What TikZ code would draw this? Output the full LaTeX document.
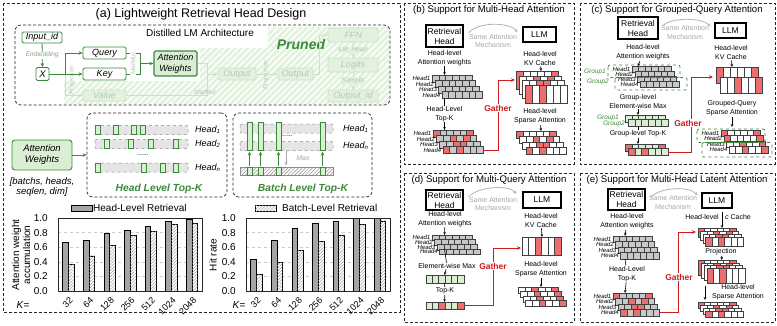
\documentclass[tikz,border=0pt]{standalone}
\usepackage{fontspec}
\setmainfont{Liberation Sans}
\usepackage{tikz}
\usetikzlibrary{arrows.meta, patterns.meta, positioning}

% colours
\definecolor{gdark}{RGB}{58,138,58}
\definecolor{gfill}{RGB}{218,238,212}
\definecolor{gfade}{RGB}{200,228,194}
\definecolor{tfade}{RGB}{185,198,185}
\definecolor{prune}{RGB}{226,242,222}
\definecolor{redt}{RGB}{204,28,28}
\definecolor{barg}{RGB}{165,165,165}
\definecolor{cellg}{RGB}{200,200,200}
\definecolor{cellr}{RGB}{236,110,110}
\definecolor{cellw}{RGB}{255,255,255}
\definecolor{celll}{RGB}{218,238,212}

% one row of cells: x, y, cell width, cell height, fills (g r w l)
\newcommand{\cellrow}[5]{%
  \foreach \cc [count=\ii from 0] in {#5}{%
    \draw[cellline, fill=cell\cc] ({#1+\ii*#3},{#2}) rectangle ++(#3,#4);}}
% rows stacked with a shift dx, dy
\newcommand{\cellstack}[7]{%
  \foreach \rr [count=\jj from 0] in {#7}{%
    \edef\cellcmd{\noexpand\cellrow{#1+\jj*#3}{#2+\jj*#4}{#5}{#6}{\rr}}\cellcmd}}
% Head1..Head4 left of a stack: x, y, dx, dy, h, prefix
\newcommand{\headlabels}[6]{%
  \foreach \k in {1,...,4}{%
    \node[hd] (#6\k) at ({#1+(\k-1)*#3-1.5},{#2+(\k-1)*#4+#5/2}) {Head\k};}}

\begin{document}
\begin{tikzpicture}[x=1pt, y=-1pt,
  panel/.style={draw=black!85, line width=0.8pt, dash pattern=on 3pt off 2pt},
  inbox/.style={draw=black!85, line width=0.7pt, dash pattern=on 3pt off 2pt, rounded corners=6pt},
  ttl/.style={font=\fontsize{12.5}{14}\selectfont, inner sep=0pt},
  pttl/.style={font=\fontsize{9.6}{11}\selectfont, inner sep=0pt},
  gbox/.style={draw=gdark, line width=0.8pt, fill=white, rounded corners=1.5pt, font=\fontsize{9}{10}\selectfont\itshape, inner sep=0pt, minimum height=12pt, minimum width=43pt},
  awbox/.style={gbox, line width=1.3pt, fill=gfill, minimum height=25pt, align=center, font=\fontsize{9}{10.5}\selectfont\itshape},
  fbox/.style={draw=gfade, line width=0.8pt, fill=prune, rounded corners=1.5pt, text=tfade, font=\fontsize{9}{10}\selectfont\itshape, inner sep=0pt, minimum height=12pt, minimum width=43pt},
  flbl/.style={text=tfade, font=\fontsize{6.5}{7}\selectfont\itshape, inner sep=0.5pt},
  elbl/.style={text=black!40, font=\fontsize{6.5}{7}\selectfont\itshape, inner sep=0.5pt, fill=white},
  gline/.style={draw=gdark, line width=0.8pt},
  garr/.style={gline, -{Stealth[length=4pt, width=3.5pt]}},
  fline/.style={draw=gfade, line width=0.8pt},
  farr/.style={fline, -{Stealth[length=4pt, width=3.5pt]}},
  rowbar/.style={draw=black!45, dashed, fill=black!10, rounded corners=1pt, line width=0.5pt},
  hatchrow/.style={draw=black!45, line width=0.5pt, fill=white, postaction={pattern={Lines[angle=45, distance=2.5pt, line width=0.5pt]}, pattern color=black!45}},
  gcell/.style={draw=gdark, fill=gfill, line width=0.7pt},
  hname/.style={font=\fontsize{9}{10}\selectfont\itshape, anchor=west, inner sep=0pt},
  lvl/.style={text=gdark, font=\fontsize{10.3}{12}\selectfont\bfseries\itshape, inner sep=0pt},
  leg/.style={font=\fontsize{10}{11}\selectfont, anchor=west, inner sep=0pt},
  barH/.style={draw=black, line width=0.6pt, fill=barg},
  barB/.style={draw=black, line width=0.6pt, fill=white, postaction={pattern={Lines[angle=45, distance=2.2pt, line width=0.35pt]}, pattern color=black!45}},
  gridl/.style={draw=black!20, dashed, line width=0.4pt},
  tick/.style={font=\fontsize{10}{11}\selectfont, anchor=east, inner sep=0pt},
  ktick/.style={font=\fontsize{9}{10}\selectfont, anchor=east, rotate=45, inner sep=0pt},
  axl/.style={font=\fontsize{10}{11}\selectfont, rotate=90, align=center, inner sep=0pt},
  rh/.style={draw=black, line width=1.2pt, font=\fontsize{8.5}{10}\selectfont, align=center, inner sep=0pt},
  same/.style={text=black!35, font=\fontsize{7}{8.5}\selectfont, align=center, inner sep=0pt},
  samearc/.style={draw=black!30, line width=0.8pt, -{Stealth[length=3.5pt, width=3pt]}},
  lbl/.style={font=\fontsize{7}{9}\selectfont, align=center, inner sep=0.5pt},
  karr/.style={draw=black, line width=0.6pt, -{Stealth[length=3pt, width=2.5pt]}},
  kline/.style={draw=black, line width=0.6pt},
  rarr/.style={draw=redt, line width=0.9pt, -{Stealth[length=4pt, width=3.5pt]}},
  gath/.style={text=redt, font=\fontsize{8.5}{10}\selectfont\bfseries, fill=white, inner sep=0.8pt},
  hd/.style={font=\fontsize{6}{6.5}\selectfont\itshape, inner sep=0pt, anchor=east},
  grp/.style={text=gdark, font=\fontsize{6.5}{7}\selectfont\itshape, inner sep=0pt, anchor=east},
  grpbox/.style={draw=gdark, dashed, line width=0.7pt, rounded corners=2pt},
  cellline/.style={draw=black!75, line width=0.35pt}
]
\useasboundingbox (0,0) rectangle (777,325);

% ================= (a)
\draw[panel] (3,3) rectangle (400,312);
\node[ttl] (ta) at (201,14) {(a) Lightweight Retrieval Head Design};

% pruned area and architecture box
\fill[prune, postaction={pattern={Lines[angle=45, distance=4.5pt, line width=1.5pt]}, pattern color=white}]
  (64,104) -- (64,81) -- (200,81) -- (200,48) -- (268,48) -- (268,27) -- (389,27) -- (389,104) -- cycle;
\draw[inbox] (15,25) rectangle (390,105);
\node[font=\fontsize{10}{12}\selectfont, inner sep=0pt] (dlm) at (200,33) {Distilled LM Architecture};
\node[font=\fontsize{14}{16}\selectfont\bfseries\itshape, text=gdark, inner sep=0pt] (pr) at (301,44) {Pruned};

% faded labels
\node[flbl, rotate=90] (proj1) at (72,80) {Projection};
\node[flbl, rotate=90] (proj2) at (266,75) {Projection};

% nodes
\node[gbox, minimum width=40pt, minimum height=11pt] (inid) at (42,37.5) {Input\_id};
\node[gbox, minimum width=13pt, minimum height=13pt, font=\fontsize{9.5}{10}\selectfont\itshape] (xin) at (42.5,74) {X};
\node[gbox] (query) at (104.5,53) {Query};
\node[gbox] (key) at (104.5,74) {Key};
\node[awbox] (aw) at (175.5,63.5) {Attention\\Weights};
\node[fbox, minimum height=11pt] (value) at (104.5,95.5) {Value};
\node[fbox, minimum width=38pt] (out1) at (237,74) {Output};
\node[fbox, minimum width=35pt] (out2) at (295.5,74) {Output};
\node[fbox, minimum width=50pt, minimum height=14pt] (ffn) at (353,35) {FFN};
\node[fbox, minimum width=50pt, minimum height=14pt] (logits) at (353,65) {Logits};
\node[fbox, minimum width=50pt] (outid) at (353,96) {Output\_id};

% edges
\coordinate (split) at (65,74);
\coordinate (join) at (140,63.5);
\coordinate (mix) at (207,74);
\coordinate (br) at (319,74);
\draw[farr] (split) |- (value.west);
\draw[fline] (value.east) -| (mix);
\draw[farr] (aw.east) -| (mix) -- (out1.west);
\draw[farr] (out1) -- (out2);
\draw[farr] (out2.east) -- (br) |- (ffn.west);
\draw[farr] (ffn) -- (logits) node[midway, flbl, fill=prune] (lmh) {LM\_Head};
\draw[farr] (logits) -- (outid) node[midway, flbl, fill=prune] (smp) {Sample};
\node[flbl] (mm2) at (205,92) {MatMul};
\draw[garr] (inid) -- (xin) node[midway, elbl] (emb) {Embedding};
\draw[gline] (xin.east) -- (split);
\draw[garr] (split) |- (query.west);
\draw[garr] (split) -- (key.west);
\draw[gline] (query.east) -| (join);
\draw[gline] (key.east) -| (join);
\draw[garr] (join) -- (aw.west);
\node[flbl, rotate=90, fill=white] (mm1) at (133,64) {MatMul};

% head level / batch level
\node[awbox, minimum width=60pt, minimum height=30pt, rounded corners=3pt, line width=0.9pt, font=\fontsize{9.5}{11}\selectfont\itshape] (aw2) at (42,155) {Attention\\Weights};
\node[font=\fontsize{9.5}{10.5}\selectfont\itshape, align=center, inner sep=0pt] (dims) at (42,187) {[batchs, heads,\\seqlen, dim]};
\node[inbox, minimum width=140pt, minimum height=84pt, inner sep=0pt] (hlb) at (157,155) {};
\node[inbox, minimum width=139pt, minimum height=84pt, inner sep=0pt] (blb) at (302.5,155) {};
\draw[garr] (aw2) -- (hlb);
\node[lvl] (hll) at (159,189) {Head Level Top-K};
\node[lvl] (bll) at (303,189) {Batch Level Top-K};

\foreach \yy in {125.5,139.5,163} \draw[rowbar] (95,\yy) rectangle ++(93,9);
\foreach \xx/\yy in {95/125.5, 113/125.5, 131/125.5, 140/125.5, 104/139.5, 128/139.5, 148/139.5, 173/139.5, 95/163, 141/163, 160/163, 173/163}
  \draw[gcell] (\xx,\yy) rectangle ++(5,9);
\node[hname] (hh1) at (195,130) {Head\textsubscript{1}};
\node[hname] (hh2) at (195,144) {Head\textsubscript{2}};
\node[hname] (hhn) at (195,167.5) {Head\textsubscript{n}};
\node[font=\fontsize{7}{8}\selectfont, inner sep=0pt] (hdots) at (143,155) {......};

\draw[rowbar] (240,124) rectangle ++(93,9);
\draw[rowbar] (240,141.5) rectangle ++(93,9);
\draw[hatchrow] (240,167) rectangle ++(93,8);
\foreach \xx [count=\n] in {247,258,276,320}{
  \draw[gcell] (\xx,122.5) rectangle ++(5,28);
  \draw[gcell] (\xx,167) rectangle ++(5,8);
  \coordinate (bs\n) at ({\xx+2.5},166);
  \coordinate (bt\n) at ({\xx+2.5},151.5);
  \draw[garr, line width=0.7pt] (bs\n) -- (bt\n);
}
\coordinate (mx1) at (286,150.5);
\coordinate (mx2) at (286,165.5);
\draw[draw=black!35, line width=0.7pt, -{Stealth[length=3.5pt, width=3pt]}] (mx1) -- (mx2);
\node[text=black!35, font=\fontsize{7}{8}\selectfont\itshape, inner sep=0pt] (maxl) at (303,158) {Max};
\node[font=\fontsize{7}{8}\selectfont, inner sep=0pt] (bdots) at (287,136) {......};
\node[hname] (bh1) at (343,129) {Head\textsubscript{1}};
\node[hname] (bhn) at (343,146) {Head\textsubscript{n}};

% charts
\draw[barH] (71,205) rectangle (92,211);
\node[leg] (lg1) at (93,208) {Head-Level Retrieval};
\draw[barB] (255,205) rectangle (276,211);
\node[leg] (lg2) at (282,208) {Batch-Level Retrieval};

\foreach \ox/\nm in {58/l, 246/r}{
  \foreach \v in {0.2,0.4,0.6,0.8} \draw[gridl] (\ox,{291-73*\v}) -- ({\ox+144},{291-73*\v});
  \foreach \v/\t [count=\n] in {0/0.0, 0.2/0.2, 0.4/0.4, 0.6/0.6, 0.8/0.8, 1/1.0}
    \node[tick] (\nm-y\n) at ({\ox-10},{291-73*\v}) {\t};
  \foreach \k [count=\n from 0] in {32,64,128,256,512,1024,2048}
    \node[ktick] (\nm-k\n) at ({\ox+20.6*(\n+0.5)+3},299) {\k};
}
\foreach \hv/\bv [count=\n from 0] in {0.67/0.36, 0.70/0.48, 0.79/0.62, 0.83/0.76, 0.89/0.82, 0.96/0.91, 0.98/0.93}{
  \draw[barH] ({58+20.6*(\n+0.5)-5.7},291) rectangle ({58+20.6*(\n+0.5)},{291-73*\hv});
  \draw[barB] ({58+20.6*(\n+0.5)},291) rectangle ({58+20.6*(\n+0.5)+5.7},{291-73*\bv});
}
\foreach \hv/\bv [count=\n from 0] in {0.44/0.23, 0.70/0.39, 0.86/0.56, 0.93/0.68, 0.95/0.76, 1.0/0.91, 1.0/0.96}{
  \draw[barH] ({246+20.6*(\n+0.5)-5.7},291) rectangle ({246+20.6*(\n+0.5)},{291-73*\hv});
  \draw[barB] ({246+20.6*(\n+0.5)},291) rectangle ({246+20.6*(\n+0.5)+5.7},{291-73*\bv});
}
\draw[black!85, line width=0.6pt] (58,218) rectangle (202,291);
\draw[black!85, line width=0.6pt] (246,218) rectangle (390,291);
\node[axl] (axa) at (21,255) {Attention weight\\accumulation};
\node[axl] (axh) at (213,255) {Hit rate};
\node[font=\fontsize{10}{11}\selectfont, inner sep=0pt] (kl) at (23,305) {\textit{K}=};
\node[font=\fontsize{10}{11}\selectfont, inner sep=0pt] (kr) at (239,305) {\textit{K}=};

% ================= (b)
\draw[panel] (404,3) rectangle (574,164);
\node[pttl] (tb) at (489,10) {(b) Support for Multi-Head Attention};
\node[rh, minimum width=37pt, minimum height=22pt] (brh) at (444.5,36) {Retrieval\\Head};
\node[rh, minimum width=33pt, minimum height=15pt] (bllm) at (539.5,34.5) {LLM};
\node[same] (bsame) at (493,41) {Same Attention\\Mechanism};
\draw[samearc] ([shift={(5,-3)}]brh.east) .. controls +(8,-11) and +(-8,-11) .. ([shift={(-5,-2)}]bllm.west);

\cellstack{432}{75}{3.3}{5.5}{6.7}{7}{{g,g,g,g,g,g},{g,g,g,g,g,g},{g,g,g,g,g,g},{g,g,g,g,g,g}}
\headlabels{432}{75}{3.3}{5.5}{7}{bha}
\cellstack{433}{130}{3.3}{5.5}{6.7}{7}{{r,g,g,g,g,r},{g,g,r,g,r,g},{g,g,r,r,g,g},{r,g,r,g,g,g}}
\headlabels{433}{130}{3.3}{5.5}{7}{bhb}
\cellstack{516}{71}{3}{4.7}{7}{18}{{r,w,w,w,w,r},{w,w,r,w,r,w},{w,w,r,r,w,w},{r,w,r,w,w,w}}
\cellstack{516}{131}{3.3}{5.5}{6.7}{7}{{r,w,w,w,w,r},{w,w,r,w,r,w},{w,w,r,r,w,w},{r,w,r,w,w,w}}

\node[lbl] (bhl) at (444.5,58) {Head-level\\Attention weights};
\node[lbl] (btk) at (444.5,114) {Head-Level\\Top-K};
\node[lbl] (bkv) at (540,58.5) {Head-level\\KV Cache};
\node[lbl] (bsp) at (540,116.5) {Head-level\\Sparse Attention};
\coordinate (bg1t) at (444.5,75);
\coordinate (bg1b) at (444.5,98.5);
\coordinate (bg2t) at (444.5,130);
\coordinate (bkvt) at (541,71);
\coordinate (bspt) at (541,131);
\draw[karr] (bhl) -- (bg1t);
\draw[kline] (bg1b) -- (btk);
\draw[karr] (btk) -- (bg2t);
\draw[karr] (bkv) -- (bkvt);
\draw[karr] (bsp) -- (bspt);
\coordinate (bgo) at (483.1,150);
\coordinate (bgc) at (498,80);
\coordinate (bgi) at (515,80);
\draw[rarr] (bgo) -| (bgc) -- (bgi);
\node[gath] (bga) at (498,108) {Gather};

% ================= (c)
\draw[panel] (580,3) rectangle (775,164);
\node[pttl] (tc) at (677,10) {(c) Support for Grouped-Query Attention};
\node[rh, minimum width=40pt, minimum height=22pt] (crh) at (638,28) {Retrieval\\Head};
\node[rh, minimum width=31pt, minimum height=15pt] (cllm) at (730.5,30.5) {LLM};
\node[same] (csame) at (685,32.5) {Same Attention\\Mechanism};
\draw[samearc] ([shift={(4,-2)}]crh.east) .. controls +(8,-9) and +(-8,-9) .. ([shift={(-4,-4)}]cllm.west);

\cellstack{632}{66}{2.7}{5}{6.5}{6.5}{{g,g,g,g,g,g},{g,g,g,g,g,g},{g,g,g,g,g,g},{g,g,g,g,g,g}}
\headlabels{632}{66}{2.7}{5}{6.5}{cha}
\draw[grpbox] (608,65) rectangle (680,77.5);
\draw[grpbox] (615,77.5) rectangle (687,90);
\node[grp] (cg1) at (606,72) {Group1};
\node[grp] (cg2) at (609,82) {Group2};
\cellstack{625}{115}{3}{4.5}{6.7}{7}{{l,l,l,l,l,l},{l,l,l,l,l,l}}
\node[grp] (cg3) at (619,117.5) {Group1};
\node[grp] (cg4) at (625,123.5) {Group2};
\cellstack{625}{144}{3}{4.5}{6.7}{7}{{r,l,l,l,l,r},{r,l,r,l,l,l}}
\cellstack{716}{67}{4}{10}{7}{16}{{r,w,w,w,w,r},{w,w,r,w,w,r}}
\cellstack{721}{130}{2.7}{5.5}{6.5}{6.5}{{r,w,w,w,w,r},{r,w,w,w,w,r},{w,w,r,w,w,r},{w,w,r,w,w,r}}
\headlabels{721}{130}{2.7}{5.5}{6.5}{chb}
\draw[grpbox] (697,129) rectangle (765,142.5);
\draw[grpbox] (702,142.5) rectangle (772,157);

\node[lbl] (chl) at (643,52.5) {Head-level\\Attention weights};
\node[lbl] (cem) at (638,101.5) {Group-level\\Element-wise Max};
\node[lbl] (ctk) at (638,134) {Group-level Top-K};
\node[lbl] (ckv) at (731,52.5) {Head-level\\KV Cache};
\node[lbl] (csp) at (732,108.5) {Grouped-Query\\Sparse Attention};
\coordinate (cg1t) at (638,66);
\coordinate (cmt) at (638,115);
\coordinate (cmb) at (638,126.5);
\coordinate (crt) at (638,144);
\coordinate (ckvt) at (732,67);
\coordinate (cspt) at (732,127);
\draw[karr] (chl) -- (cg1t);
\draw[karr] (cem) -- (cmt);
\draw[kline] (cmb) -- (ctk);
\draw[karr] (ctk) -- (crt);
\draw[karr] (ckv) -- (ckvt);
\draw[karr] (csp) -- (cspt);
\coordinate (cgo) at (668.2,152);
\coordinate (cgc) at (691,77);
\coordinate (cgi) at (713,77);
\draw[rarr] (cgo) -| (cgc) -- (cgi);
\node[gath] (cga) at (688,123) {Gather};

% ================= (d)
\draw[panel] (404,173) rectangle (574,322);
\node[pttl] (td) at (489,180) {(d) Support for Multi-Query Attention};
\node[rh, minimum width=37pt, minimum height=20pt] (drh) at (444.5,200) {Retrieval\\Head};
\node[rh, minimum width=38pt, minimum height=16pt] (dllm) at (542,200) {LLM};
\node[same] (dsame) at (493,204) {Same Attention\\Mechanism};
\draw[samearc] ([shift={(5,-3)}]drh.east) .. controls +(8,-10) and +(-8,-10) .. ([shift={(-6,-6)}]dllm.west);

\cellstack{432}{235}{2.5}{4.6}{6.7}{5.5}{{g,g,g,g,g,g},{g,g,g,g,g,g},{g,g,g,g,g,g},{g,g,g,g,g,g}}
\headlabels{432}{235}{2.5}{4.6}{5.5}{dha}
\cellrow{426}{275}{6.33}{8}{l,l,l,l,l,l}
\cellrow{426}{302}{6.33}{7}{l,l,r,l,l,r}
\cellrow{522}{237}{6.5}{18}{w,w,r,w,w,r}
\cellstack{518}{287}{2.5}{4.5}{6.7}{6}{{w,w,r,w,w,r},{w,w,r,w,w,r},{w,w,r,w,w,r},{w,w,r,w,w,r}}

\node[lbl] (dhl) at (445,219) {Head-level\\Attention weights};
\node[lbl] (dem) at (447,266) {Element-wise Max};
\node[lbl] (dtk) at (445,291) {Top-K};
\node[lbl] (dkv) at (541,220.5) {Head-level\\KV Cache};
\node[lbl] (dsp) at (541,269.5) {Head-level\\Sparse Attention};
\coordinate (dg1t) at (444.5,235);
\coordinate (dg1b) at (444.5,249.3);
\coordinate (dmt) at (444.5,275);
\coordinate (dmb) at (444.5,283);
\coordinate (drt) at (444.5,302);
\coordinate (dkvt) at (542,237);
\coordinate (dspt) at (541,287);
\draw[karr] (dhl) -- (dg1t);
\draw[kline] (dg1b) -- (dem);
\draw[karr] (dem) -- (dmt);
\draw[kline] (dmb) -- (dtk);
\draw[karr] (dtk) -- (drt);
\draw[karr] (dkv) -- (dkvt);
\draw[karr] (dsp) -- (dspt);
\coordinate (dgo) at (464,305.5);
\coordinate (dgc) at (493,248);
\coordinate (dgi) at (521,248);
\draw[rarr] (dgo) -| (dgc) -- (dgi);
\node[gath] (dga) at (493,266) {Gather};

% ================= (e)
\draw[panel] (580,173) rectangle (775,322);
\node[pttl] (te) at (677,180) {(e) Support for Multi-Head Latent Attention};
\node[rh, minimum width=37pt, minimum height=21pt] (erh) at (626.5,199.5) {Retrieval\\Head};
\node[rh, minimum width=30pt, minimum height=15pt] (ellm) at (717,200.5) {LLM};
\node[same] (esame) at (673,202.5) {Same Attention\\Mechanism};
\draw[samearc] ([shift={(5,-2)}]erh.east) .. controls +(8,-10) and +(-8,-10) .. ([shift={(-4,-5)}]ellm.west);

\cellstack{613}{236}{2.5}{5.5}{6.5}{6.5}{{g,g,g,g,g,g},{g,g,g,g,g,g},{g,g,g,g,g,g},{g,g,g,g,g,g}}
\headlabels{613}{236}{2.5}{5.5}{6.5}{eha}
\cellstack{613}{293}{2.5}{5.5}{6.5}{6.5}{{r,g,g,g,g,r},{g,g,r,g,r,g},{g,g,r,r,g,g},{r,g,r,g,g,g}}
\headlabels{613}{293}{2.5}{5.5}{6.5}{ehb}
\cellstack{698}{228}{2.5}{3}{6.3}{9}{{r,w,w,w,w,r},{w,w,r,w,r,w},{w,w,r,r,w,w},{r,w,r,w,w,w}}
\cellstack{698}{260}{3}{2.7}{6.3}{15}{{r,w,w,w,w,r},{w,w,r,w,r,w},{w,w,r,r,w,w},{r,w,r,w,w,w}}
\cellstack{698}{302}{2.5}{3}{6.3}{6}{{r,w,w,w,w,r},{w,w,r,w,r,w},{w,w,r,r,w,w},{r,w,r,w,w,w}}

\node[lbl] (ehl) at (627,221.5) {Head-level\\Attention weights};
\node[lbl] (etk) at (627,274) {Head-Level\\Top-K};
\node[lbl, anchor=east] (ecl) at (719.5,217) {Head-level};
\node[lbl, anchor=west] (ecc) at (724.5,217) {\textit{c} Cache};
\node[lbl] (eproj) at (721,252) {Projection};
\node[lbl] (esp) at (738,292.5) {Head-level\\Sparse Attention};
\coordinate (eg1t) at (625,236);
\coordinate (eg1b) at (625,259);
\coordinate (eg2t) at (625,293);
\coordinate (ec1) at (722,212);
\coordinate (ec2) at (722,228);
\coordinate (ep2t) at (722,260);
\coordinate (ep2b) at (705,286);
\coordinate (ep3t) at (705,300);
\draw[karr] (ehl) -- (eg1t);
\draw[kline] (eg1b) -- (etk);
\draw[karr] (etk) -- (eg2t);
\draw[karr] (ec1) -- (ec2);
\draw[karr] (eproj) -- (ep2t);
\draw[karr] (ep2b) -- (ep3t);
\coordinate (ego) at (659.5,312.75);
\coordinate (egc) at (678,232);
\coordinate (egi) at (696,232);
\draw[rarr] (ego) -| (egc) -- (egi);
\node[gath] (ega) at (679,277) {Gather};
\end{tikzpicture}
\end{document}
